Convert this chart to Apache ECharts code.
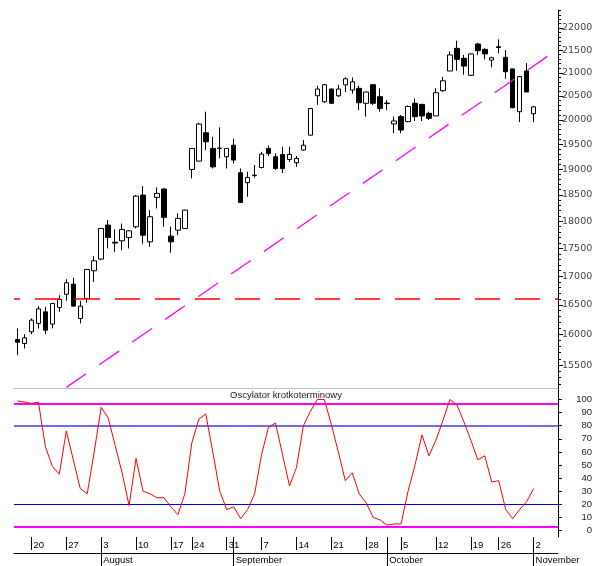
<!DOCTYPE html>
<html>
<head>
<meta charset="utf-8">
<script src="https://cdn.jsdelivr.net/npm/echarts@6/dist/echarts.min.js"></script>
<style>
html,body{margin:0;padding:0;background:#fff}
#main{width:592px;height:566px}
</style>
</head>
<body>
<div id="main"></div>
<script>
// trading days, three empty days at the end
var dates = [
  '2009-07-16','2009-07-17','2009-07-20','2009-07-21','2009-07-22','2009-07-23','2009-07-24',
  '2009-07-27','2009-07-28','2009-07-29','2009-07-30','2009-07-31',
  '2009-08-03','2009-08-04','2009-08-05','2009-08-06','2009-08-07',
  '2009-08-10','2009-08-11','2009-08-12','2009-08-13','2009-08-14',
  '2009-08-17','2009-08-18','2009-08-19',
  '2009-08-24','2009-08-25','2009-08-26','2009-08-27','2009-08-28',
  '2009-08-31','2009-09-01','2009-09-02','2009-09-03','2009-09-04',
  '2009-09-07','2009-09-08','2009-09-09','2009-09-10','2009-09-11',
  '2009-09-14','2009-09-15','2009-09-16','2009-09-17','2009-09-18',
  '2009-09-21','2009-09-22','2009-09-23','2009-09-24','2009-09-25',
  '2009-09-28','2009-09-29','2009-09-30','2009-10-01','2009-10-02',
  '2009-10-05','2009-10-06','2009-10-07','2009-10-08','2009-10-09',
  '2009-10-12','2009-10-13','2009-10-14','2009-10-15','2009-10-16',
  '2009-10-19','2009-10-20','2009-10-21','2009-10-22',
  '2009-10-26','2009-10-27','2009-10-28','2009-10-29','2009-10-30',
  '2009-11-02','2009-11-03','2009-11-04','2009-11-05'
];

var open = [15918,15852,16045,16186,16381,16174,16456,16683,16860,16269,
  16611,17095,17304,17926,17610,17636,17698,17895,18494,17617,
  18450,18610,17722,17833,17864,18994,19159,19731,19413,19420,
  19246,19478,18928,18734,18880,19032,19413,19246,19290,19192,
  19126,19380,19683,20505,20377,20649,20505,20739,20627,20663,
  20345,20742,20485,20350,19914,20065,19961,20345,20323,20134,
  20080,20613,21039,21540,21318,20944,21637,21518,21280,21575,
  21340,21085,20168,21039,20125];
var close = [15873,15944,16241,16432,16073,16525,16594,16883,16479,16479,
  17119,17273,17864,17698,17595,17845,17820,18475,17740,18083,
  18527,18071,17617,18051,18208,19413,19911,19547,19045,19410,
  19413,19179,18354,18837,18872,19299,19312,19012,19010,19293,
  19213,19478,20234,20649,20742,20345,20649,20870,20805,20357,
  20585,20345,20237,20340,19974,19787,20278,20065,20080,20030,
  20571,20827,21394,21295,21147,21416,21488,21416,21332,21560,
  21024,20252,20918,20585,20270];
var low = [15660,15770,16006,16101,16006,16101,16381,16570,16470,16186,
  16535,16900,17286,17497,17435,17466,17497,17864,17583,17527,
  18240,17895,17418,17740,17860,18818,19155,19380,19012,19213,
  19012,19113,18350,18462,18837,19012,19260,18981,18923,19146,
  19045,19370,19680,20312,20357,20330,20480,20585,20550,20202,
  20065,20310,20168,20202,19724,19724,19950,19974,19974,19994,
  20080,20590,21039,21046,20958,20930,21394,21295,21118,21428,
  20870,20240,19953,20585,19953];
var high = [16101,16006,16269,16479,16467,16535,16665,16947,16970,16570,
  17125,17357,17870,18020,17845,17955,17830,18494,18668,18208,
  18643,18624,17895,18145,18215,19420,19939,20168,19648,19843,
  19420,19609,19012,18948,19080,19345,19472,19312,19446,19446,
  19260,19582,20240,20718,20756,20660,20740,20900,20900,20718,
  20590,20756,20663,20413,20065,20100,20300,20445,20330,20168,
  20663,20910,21470,21710,21394,21430,21666,21540,21354,21742,
  21503,21090,20928,21213,20285];

// oscylator krotkoterminowy
var osc = [99,98,97,98,64,49,43,76,54,32,
  28,60,94,86,65,44,19,55,30,28,
  25,25,18,12,28,67,85,89,60,30,
  16,18,9,16,28,58,79,82,58,34,
  48,80,91,100,100,81,60,38,44,28,
  21,10,8,4,5,5,30,50,73,57,
  69,84,100,96,83,69,54,57,37,38,
  16,9,16,22,32];

var weekTicks = ['2009-07-20','2009-07-27','2009-08-03','2009-08-10','2009-08-17','2009-08-24',
  '2009-08-31','2009-09-07','2009-09-14','2009-09-21','2009-09-28','2009-10-05','2009-10-12',
  '2009-10-19','2009-10-26','2009-11-02'];
var monthTicks = ['2009-08-03','2009-09-01','2009-10-01','2009-11-02'];
var monthNames = ['August','September','October','November'];

var priceTicks = [15500,16000,16500,17000,17500,18000,18500,19000,19500,20000,20500,21000,21500,22000];
var priceMinor = [];
for (var v = 15200; v <= 22400; v += 100) priceMinor.push(v);
var oscTicks = [0,10,20,30,40,50,60,70,80,90,100];

var supportLevel = 16600;
var trendStart = ['2009-07-27', 15145];
var trendEnd = ['2009-11-04', 21362];
var oscOuter = [97, 3];
var oscInner = [80, 20];

var candles = [];
for (var i = 0; i < open.length; i++) {
  candles.push([open[i], close[i], low[i], high[i]]);
}

var chart = echarts.init(document.getElementById('main'));

var bandLine = function (val, color, width) {
  return {yAxis: val, lineStyle: {color: color, width: width, type: 'solid'}};
};

var option = {
  animation: false,
  backgroundColor: '#fff',
  title: {
    text: 'Oscylator krotkoterminowy',
    left: 230,
    top: 390,
    padding: 0,
    textStyle: {fontSize: 9.5, fontWeight: 'normal', color: '#222', fontFamily: 'Liberation Sans'}
  },
  grid: [
    {left: 14, right: 34, top: 10, height: 378, containLabel: false, outerBoundsMode: 'none'},
    {left: 14, right: 34, top: 388, height: 149, containLabel: false, outerBoundsMode: 'none'}
  ],
  xAxis: [
    {
      type: 'category', gridIndex: 0, data: dates, position: 'bottom',
      axisLine: {onZero: false, lineStyle: {color: '#c0c0c0', width: 1}},
      axisTick: {show: false}, axisLabel: {show: false}
    },
    {
      type: 'category', gridIndex: 1, data: dates, position: 'bottom',
      axisLine: {show: false, onZero: false},
      axisTick: {
        show: true, alignWithLabel: true, length: 13,
        interval: function (idx, val) { return weekTicks.indexOf(val) >= 0; },
        lineStyle: {color: '#000'}
      },
      axisLabel: {
        interval: function (idx, val) { return weekTicks.indexOf(val) >= 0; },
        formatter: function (val) { return String(parseInt(val.slice(8), 10)); },
        align: 'left', margin: 3, padding: [0, 0, 0, 2],
        fontSize: 9.5, color: '#000', fontFamily: 'Liberation Sans'
      }
    },
    {
      type: 'category', gridIndex: 1, data: dates, position: 'bottom',
      axisLine: {show: false, onZero: false},
      axisTick: {
        show: true, alignWithLabel: true, length: 29,
        interval: function (idx, val) { return monthTicks.indexOf(val) >= 0; },
        lineStyle: {color: '#000'}
      },
      axisLabel: {
        interval: function (idx, val) { return monthTicks.indexOf(val) >= 0; },
        formatter: function (val) { return monthNames[monthTicks.indexOf(val)] || ''; },
        align: 'left', margin: 18, padding: [0, 0, 0, 2],
        fontSize: 9.5, color: '#000', fontFamily: 'Liberation Sans'
      }
    },
    {
      type: 'category', gridIndex: 1, data: dates, position: 'bottom', offset: 16,
      axisLine: {show: true, onZero: false, lineStyle: {color: '#000'}},
      axisTick: {show: false}, axisLabel: {show: false}
    }
  ],
  yAxis: [
    {
      type: 'log', gridIndex: 0, position: 'right', min: 15135, max: 22416,
      axisLine: {show: true, onZero: false, lineStyle: {color: '#000'}},
      axisTick: {show: true, length: 5, customValues: priceTicks, lineStyle: {color: '#000'}},
      axisLabel: {
        customValues: priceTicks, align: 'left', margin: 4,
        formatter: function (val) { return String(Math.round(val)); },
        fontSize: 9.5, color: '#444', fontFamily: 'DejaVu Sans'
      },
      splitLine: {show: false}
    },
    {
      type: 'log', gridIndex: 0, position: 'right', min: 15135, max: 22416,
      axisLine: {show: false, onZero: false},
      axisTick: {show: true, length: 3, customValues: priceMinor, lineStyle: {color: '#000'}},
      axisLabel: {show: false},
      splitLine: {show: false}
    },
    {
      type: 'value', gridIndex: 1, position: 'right', min: -5, max: 108.8,
      axisLine: {show: true, onZero: false, lineStyle: {color: '#000'}},
      axisTick: {show: true, length: 4, customValues: oscTicks, lineStyle: {color: '#000'}},
      axisLabel: {
        customValues: oscTicks, align: 'right', margin: 34,
        fontSize: 9.5, color: '#222', fontFamily: 'Liberation Sans'
      },
      splitLine: {show: false}
    }
  ],
  series: [
    {
      type: 'candlestick',
      xAxisIndex: 0, yAxisIndex: 0,
      data: candles,
      barWidth: 5,
      itemStyle: {
        color: '#fff', color0: '#000',
        borderColor: '#000', borderColor0: '#000', borderWidth: 1
      },
      markLine: {
        silent: true, symbol: 'none', label: {show: false},
        data: [
          {yAxis: supportLevel, lineStyle: {color: '#ff0000', width: 1.5, type: [25, 15], dashOffset: 19}},
          [
            {coord: trendStart, lineStyle: {color: '#ff00ff', width: 1.3, type: [24, 16]}},
            {coord: trendEnd}
          ]
        ]
      }
    },
    {
      type: 'line',
      xAxisIndex: 1, yAxisIndex: 2,
      data: osc,
      symbol: 'none',
      z: 3,
      lineStyle: {color: '#ff0000', width: 1},
      markLine: {
        silent: true, symbol: 'none', label: {show: false},
        z: 1,
        data: [
          bandLine(oscOuter[0], '#ff00ff', 2),
          bandLine(oscInner[0], '#3a3aff', 1.5),
          bandLine(oscInner[1], '#0000e0', 1.2),
          bandLine(oscOuter[1], '#ff00ff', 2)
        ]
      }
    }
  ]
};

chart.setOption(option);
</script>
</body>
</html>
